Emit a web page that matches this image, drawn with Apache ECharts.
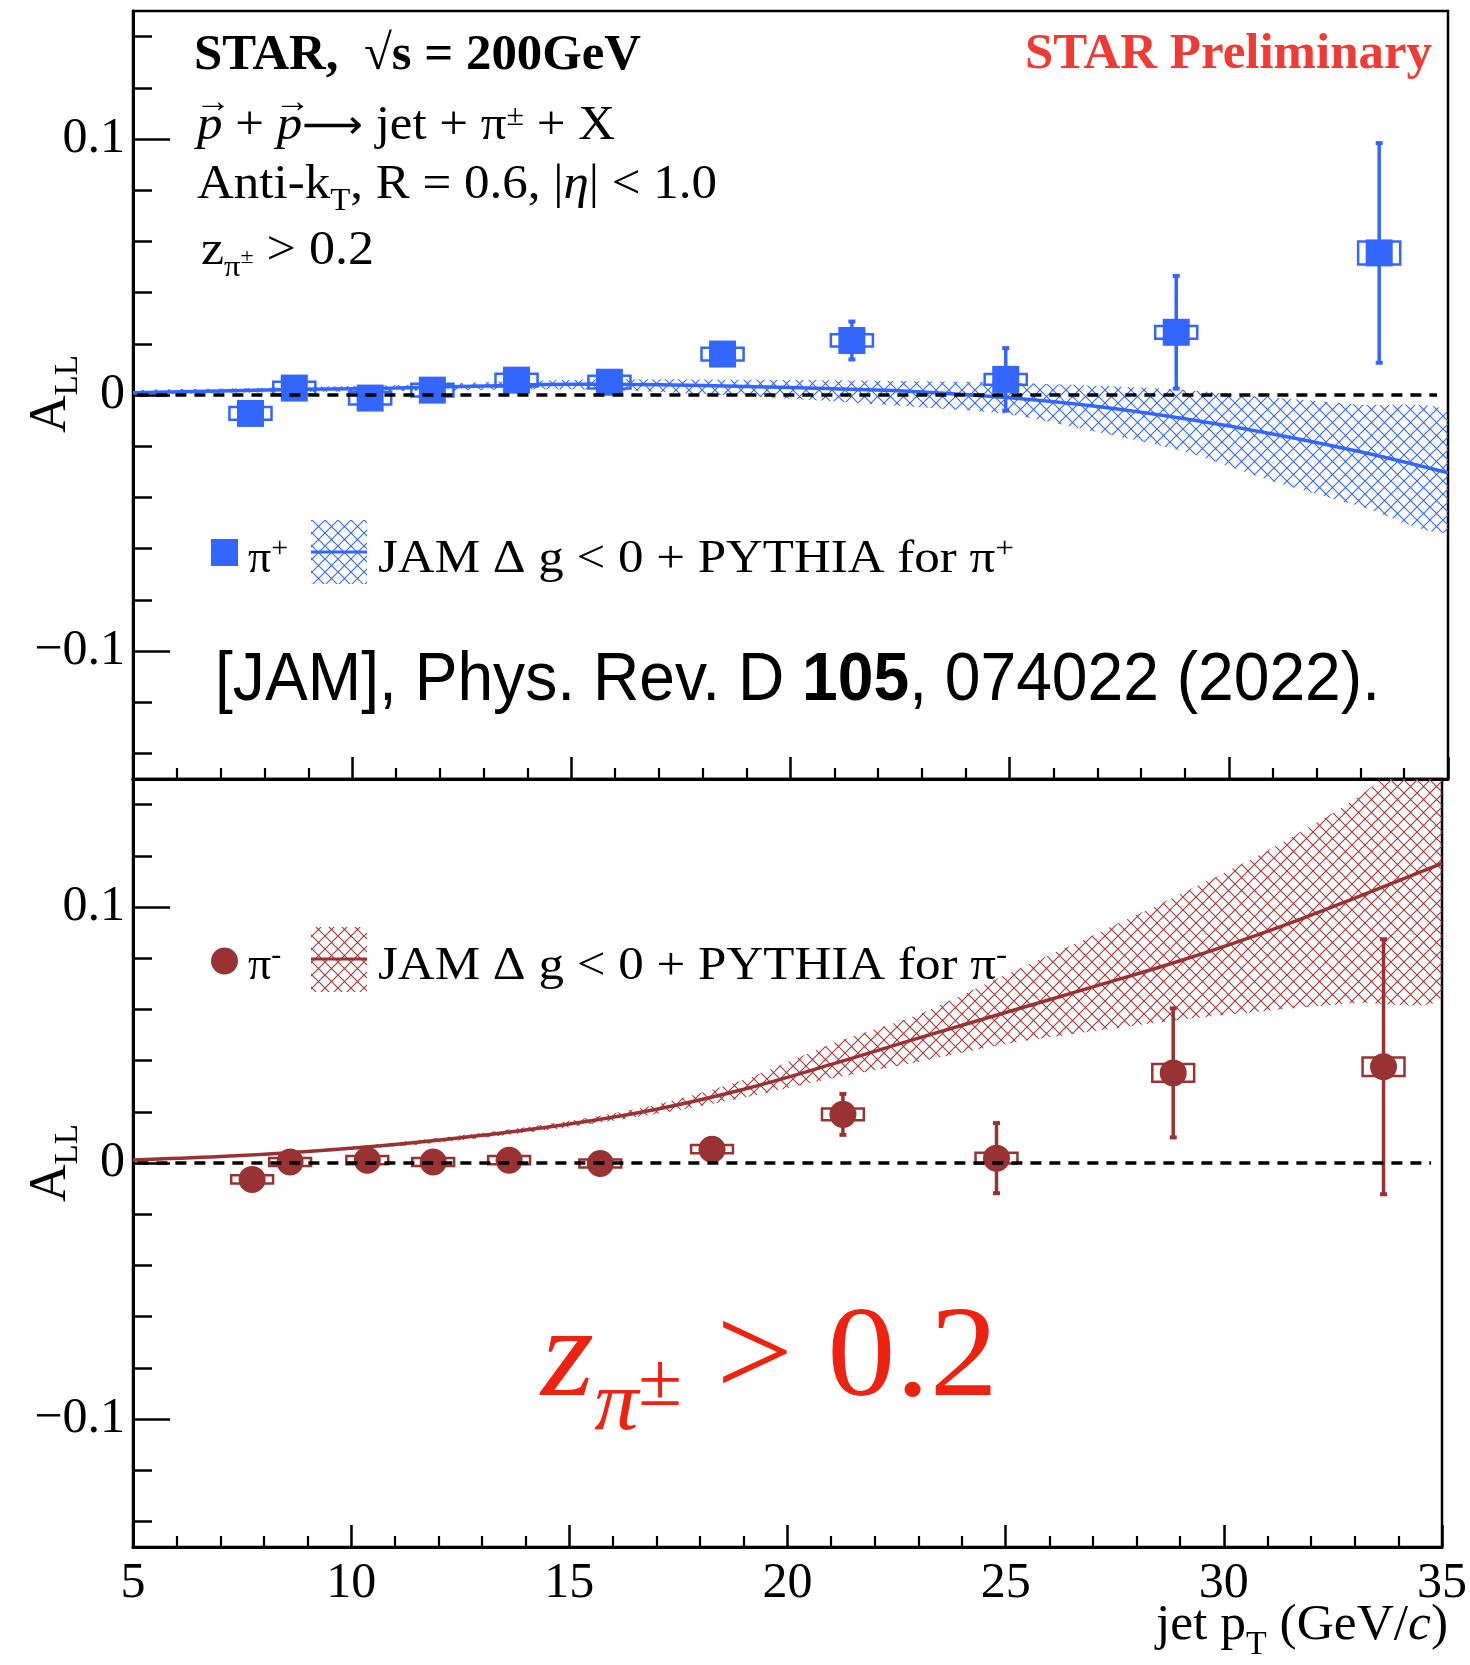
<!DOCTYPE html>
<html>
<head>
<meta charset="utf-8">
<script src="https://cdn.jsdelivr.net/npm/echarts@6/dist/echarts.min.js"></script>
<style>
  html, body { margin: 0; padding: 0; background: #ffffff; }
  #chart { width: 1470px; height: 1665px; }
</style>
</head>
<body>
<div id="chart"></div>
<script>
// ---------------- data ----------------
// x axis
const xMin = 5, xMax = 35, xStep = 5;
// y axis (A_LL), identical for both panels
const yMin = -0.15, yMax = 0.15;
const yMajorTicks = [-0.1, 0, 0.1];
const yMinorTicks = [-0.14, -0.12, -0.1, -0.08, -0.06, -0.04, -0.02, 0, 0.02, 0.04, 0.06, 0.08, 0.1, 0.12, 0.14];

// pi+ measurement
const piPlusPt   = [7.68, 8.68, 10.41, 11.83, 13.75, 15.87, 18.45, 21.40, 24.91, 28.80, 33.43];
const piPlusAll  = [-0.0072, 0.0027, -0.0012, 0.0019, 0.0058, 0.0050, 0.0160, 0.0213, 0.0061, 0.0245, 0.0555];
const piPlusStat = [0.0030, 0.0030, 0.0030, 0.0030, 0.0030, 0.0030, 0.0040, 0.0074, 0.0122, 0.0220, 0.0429];
const piPlusSys  = [0.0025, 0.0025, 0.0025, 0.0025, 0.0025, 0.0025, 0.0025, 0.0024, 0.0021, 0.0025, 0.0045];

// pi- measurement
const piMinusPt   = [7.73, 8.60, 10.37, 11.88, 13.62, 15.71, 18.27, 21.27, 24.79, 28.84, 33.66];
const piMinusAll  = [-0.0064, 0.0004, 0.0011, 0.0004, 0.0011, -0.0002, 0.0054, 0.0190, 0.0019, 0.0352, 0.0376];
const piMinusStat = [0.0030, 0.0030, 0.0030, 0.0030, 0.0030, 0.0030, 0.0040, 0.0080, 0.0137, 0.0252, 0.0498];
const piMinusSys  = [0.0016, 0.0016, 0.0016, 0.0016, 0.0016, 0.0016, 0.0016, 0.0023, 0.0021, 0.0035, 0.0036];

// half width of the systematic boxes in jet pT (GeV/c)
const sysHalfWidth = 0.48;

// JAM (Delta g < 0) + PYTHIA predictions
const thPt          = [5, 7, 9, 11, 13, 15, 17, 19, 21, 23, 25, 27, 29, 31, 33, 35];
const jamPlus       = [0.0009, 0.0016, 0.0022, 0.0027, 0.0035, 0.0042, 0.0040, 0.0033, 0.0024, 0.0012, -0.0011, -0.0045, -0.0093, -0.0152, -0.0222, -0.0304];
const jamPlusHigh   = [0.0017, 0.0025, 0.0032, 0.0039, 0.0050, 0.0060, 0.0062, 0.0060, 0.0058, 0.0054, 0.0048, 0.0036, 0.0020, -0.0010, -0.0038, -0.0070];
const jamPlusLow    = [0.0002, 0.0008, 0.0012, 0.0016, 0.0020, 0.0022, 0.0012, -0.0005, -0.0025, -0.0048, -0.0076, -0.0145, -0.0222, -0.0337, -0.0435, -0.0530];
const jamMinus      = [0.0012, 0.0025, 0.0045, 0.0072, 0.0108, 0.0152, 0.0210, 0.0288, 0.0385, 0.0488, 0.0588, 0.0688, 0.0790, 0.0905, 0.1035, 0.1170];
const jamMinusHigh  = [0.0015, 0.0029, 0.0050, 0.0080, 0.0118, 0.0165, 0.0228, 0.0325, 0.0465, 0.0580, 0.0735, 0.0890, 0.1050, 0.1220, 0.1420, 0.1650];
const jamMinusLow   = [0.0009, 0.0021, 0.0040, 0.0064, 0.0098, 0.0140, 0.0192, 0.0255, 0.0330, 0.0395, 0.0465, 0.0515, 0.0560, 0.0595, 0.0625, 0.0650];

// dashed reference line at A_LL = 0
const zeroLine = [[5.1, 0], [34.75, 0]];

// ---------------- styles ----------------
const BLUE = '#3366ff';
const BROWN = '#993333';
const RED = '#ee2211';
const PRELIM = '#f03a34';
const SERIF = '"Liberation Serif", "Times New Roman", serif';
const SANS = '"Liberation Sans", Arial, sans-serif';
const ARROWS = '"DejaVu Sans", "Liberation Serif", serif';

// cross-hatch fill tile
function hatchTile(color) {
  const s = 13;
  const c = document.createElement('canvas');
  c.width = s; c.height = s;
  const g = c.getContext('2d');
  g.strokeStyle = color;
  g.lineWidth = 1.1;
  g.beginPath();
  g.moveTo(0, 0); g.lineTo(s, s);
  g.moveTo(s, 0); g.lineTo(0, s);
  g.stroke();
  return { image: c, repeat: 'repeat' };
}
const hatchBlue = hatchTile(BLUE);
const hatchBrown = hatchTile('#a83535');

// ---------------- text helper ----------------
const measure = document.createElement('canvas').getContext('2d');
function fontOf(p, size) {
  return (p.style || 'normal') + ' ' + (p.weight || 'normal') + ' ' + size + 'px ' + (p.family || SERIF);
}
// lays out text pieces on a shared baseline (sub/superscripts via dy)
function textRun(parts, opt) {
  let cursor = 0, prevStart = 0, prevW = 0;
  const children = [];
  parts.forEach(function (p) {
    const size = p.size || opt.size;
    const font = fontOf(p, size);
    measure.font = font;
    const w = measure.measureText(p.text).width;
    let x;
    if (p.over) {
      x = prevStart + (prevW - w) / 2 + (p.dx || 0);
    } else {
      x = cursor + (p.dx || 0);
      prevStart = x; prevW = w; cursor = x + w;
    }
    children.push({
      type: 'text', silent: true,
      x: x, y: (p.dy || 0) - 0.34 * size,
      style: { text: p.text, font: font, fill: p.color || opt.color || '#000', align: 'left', verticalAlign: 'middle' }
    });
  });
  const s = opt.width ? opt.width / cursor : (opt.scaleX || 1);
  const gx = opt.anchor === 'right' ? opt.x - cursor * s : opt.x;
  return { type: 'group', x: gx, y: opt.y, scaleX: s, rotation: opt.rotation || 0, silent: true, children: children };
}

// ---------------- chart ----------------
const chart = echarts.init(document.getElementById('chart'), null, { renderer: 'canvas' });

const GRID_LEFT = 133, GRID_RIGHT = 22;
const grids = [
  { left: GRID_LEFT, right: GRID_RIGHT, top: 11, height: 768 },
  { left: GRID_LEFT, right: GRID_RIGHT, top: 779, height: 768 }
].map(function (g) {
  return Object.assign({ show: true, borderColor: '#000', borderWidth: 2.5, backgroundColor: 'transparent', containLabel: false }, g);
});

function xAxisFor(gridIndex, withLabels) {
  return {
    type: 'value', gridIndex: gridIndex, min: xMin, max: xMax, interval: xStep,
    axisLine: { show: true, onZero: false, lineStyle: { color: '#000', width: 3 } },
    axisTick: { show: true, inside: true, length: 22, lineStyle: { color: '#000', width: 2.5 } },
    minorTick: { show: true, splitNumber: 5, length: 11, lineStyle: { color: '#000', width: 2.2 } },
    splitLine: { show: false },
    axisLabel: withLabels ? {
      show: true, margin: 12, color: '#000', fontFamily: SERIF, fontSize: 50,
      showMinLabel: true, showMaxLabel: true
    } : { show: false }
  };
}

function yAxesFor(gridIndex) {
  return [
    {
      type: 'value', gridIndex: gridIndex, min: yMin, max: yMax, position: 'left',
      axisLine: { show: true, onZero: false, lineStyle: { color: '#000', width: 3 } },
      axisTick: { show: true, inside: true, length: 37, customValues: yMajorTicks, lineStyle: { color: '#000', width: 2.5 } },
      axisLabel: {
        show: true, customValues: yMajorTicks, margin: 8, color: '#000', fontFamily: SERIF, fontSize: 50,
        formatter: function (v) { return String(v).replace('-', '\u2212'); }
      },
      splitLine: { show: false }
    },
    {
      type: 'value', gridIndex: gridIndex, min: yMin, max: yMax, position: 'left',
      axisLine: { show: false },
      axisTick: { show: true, inside: true, length: 19, customValues: yMinorTicks, lineStyle: { color: '#000', width: 2.5 } },
      axisLabel: { show: false },
      splitLine: { show: false }
    }
  ];
}

function bandSeries(xi, yi, xs, lo, hi, fill) {
  return {
    type: 'custom', xAxisIndex: xi, yAxisIndex: yi, clip: true, z: 1, silent: true,
    data: xs.map(function (x, i) { return [x, lo[i], hi[i]]; }),
    renderItem: function (params, api) {
      if (params.dataIndex !== 0) return null;
      const upper = xs.map(function (x, i) { return api.coord([x, hi[i]]); });
      const lower = xs.map(function (x, i) { return api.coord([x, lo[i]]); }).reverse();
      return { type: 'polygon', shape: { points: upper.concat(lower), smooth: 0.25 }, style: { fill: fill, stroke: null } };
    }
  };
}

function curveSeries(xi, yi, xs, ys, color) {
  return {
    type: 'line', xAxisIndex: xi, yAxisIndex: yi, z: 2, silent: true,
    data: xs.map(function (x, i) { return [x, ys[i]]; }),
    smooth: 0.4, showSymbol: false, symbol: 'none',
    lineStyle: { color: color, width: 3.5 }
  };
}

function sysSeries(xi, yi, xs, ys, sys, color) {
  return {
    type: 'custom', xAxisIndex: xi, yAxisIndex: yi, clip: true, z: 3, silent: true,
    data: xs.map(function (x, i) { return [x, ys[i], sys[i]]; }),
    renderItem: function (params, api) {
      const x = api.value(0), y = api.value(1), s = api.value(2);
      const a = api.coord([x - sysHalfWidth, y + s]);
      const b = api.coord([x + sysHalfWidth, y - s]);
      return { type: 'rect', shape: { x: a[0], y: a[1], width: b[0] - a[0], height: b[1] - a[1] },
               style: { fill: 'none', stroke: color, lineWidth: 2.5 } };
    }
  };
}

function statSeries(xi, yi, xs, ys, err, color) {
  return {
    type: 'custom', xAxisIndex: xi, yAxisIndex: yi, clip: true, z: 3, silent: true,
    data: xs.map(function (x, i) { return [x, ys[i], err[i]]; }),
    renderItem: function (params, api) {
      const x = api.value(0), y = api.value(1), e = api.value(2);
      const t = api.coord([x, y + e]), b = api.coord([x, y - e]);
      return { type: 'group', children: [
        { type: 'line', shape: { x1: t[0], y1: t[1], x2: b[0], y2: b[1] }, style: { stroke: color, lineWidth: 3.5 } },
        { type: 'rect', shape: { x: t[0] - 3.5, y: t[1] - 2, width: 7, height: 4 }, style: { fill: color } },
        { type: 'rect', shape: { x: b[0] - 3.5, y: b[1] - 2, width: 7, height: 4 }, style: { fill: color } }
      ] };
    }
  };
}

function pointSeries(xi, yi, xs, ys, symbol, color) {
  return {
    type: 'scatter', xAxisIndex: xi, yAxisIndex: yi, z: 4, silent: true,
    symbol: symbol, symbolSize: 27,
    data: xs.map(function (x, i) { return [x, ys[i]]; }),
    itemStyle: { color: color, opacity: 1 }
  };
}

function zeroSeries(xi, yi) {
  return {
    type: 'line', xAxisIndex: xi, yAxisIndex: yi, z: 6, silent: true,
    data: zeroLine, showSymbol: false, symbol: 'none',
    lineStyle: { color: '#000', width: 3.5, type: [11, 8] }
  };
}

// ---------------- annotations ----------------
const texts = [
  // top-left block
  textRun([{ text: 'STAR,  \u221As = 200GeV', weight: 'bold' }], { x: 194, y: 73, size: 50, width: 447 }),
  textRun([
    { text: 'p', style: 'italic' },
    { text: '\u2192', size: 34, weight: 'bold', dy: -28, over: true, dx: 3 },
    { text: ' + ' },
    { text: 'p', style: 'italic' },
    { text: '\u2192', size: 34, weight: 'bold', dy: -28, over: true, dx: 3 },
    { text: '\u27F6', size: 40, family: ARROWS, dy: -2 },
    { text: ' jet + \u03C0' },
    { text: '\u00B1', size: 30, dy: -16 },
    { text: ' + X' }
  ], { x: 197, y: 143, size: 48, width: 418 }),
  textRun([
    { text: 'Anti-k' },
    { text: 'T', size: 31, dy: 10 },
    { text: ', R = 0.6, |' },
    { text: '\u03B7', style: 'italic' },
    { text: '| < 1.0' }
  ], { x: 197, y: 202, size: 48, width: 520 }),
  textRun([
    { text: 'z' },
    { text: '\u03C0', size: 30, dy: 10 },
    { text: '\u00B1', size: 22, dy: -3 },
    { text: ' > 0.2' }
  ], { x: 201, y: 268, size: 48, width: 173 }),
  textRun([{ text: 'STAR Preliminary', weight: 'bold', color: PRELIM }], { x: 1432, y: 72, size: 50, width: 407, anchor: 'right' }),

  // top legend
  { type: 'rect', silent: true, shape: { x: 211, y: 539, width: 27, height: 27 }, style: { fill: BLUE } },
  textRun([{ text: '\u03C0' }, { text: '+', size: 30, dy: -17 }], { x: 248, y: 576, size: 46 }),
  { type: 'rect', silent: true, shape: { x: 311, y: 520, width: 56, height: 64 }, style: { fill: hatchBlue } },
  { type: 'line', silent: true, shape: { x1: 311, y1: 552, x2: 367, y2: 552 }, style: { stroke: BLUE, lineWidth: 3 } },
  textRun([{ text: 'JAM \u0394 g < 0 + PYTHIA for \u03C0' }, { text: '+', size: 30, dy: -17 }], { x: 378, y: 576, size: 46, width: 636 }),

  // citation
  textRun([
    { text: '[JAM], Phys. Rev. D ', family: SANS },
    { text: '105', family: SANS, weight: 'bold' },
    { text: ', 074022 (2022).', family: SANS }
  ], { x: 215, y: 704, size: 68, width: 1165 }),

  // bottom legend
  { type: 'circle', silent: true, shape: { cx: 224.5, cy: 961, r: 13.5 }, style: { fill: BROWN } },
  textRun([{ text: '\u03C0' }, { text: '-', size: 30, dy: -17 }], { x: 248, y: 983, size: 46 }),
  { type: 'rect', silent: true, shape: { x: 311, y: 927, width: 56, height: 65 }, style: { fill: hatchBrown } },
  { type: 'line', silent: true, shape: { x1: 311, y1: 959, x2: 367, y2: 959 }, style: { stroke: BROWN, lineWidth: 3 } },
  textRun([{ text: 'JAM \u0394 g < 0 + PYTHIA for \u03C0' }, { text: '-', size: 30, dy: -17 }], { x: 378, y: 983, size: 46, width: 629 }),

  // large cut label
  textRun([
    { text: 'z', style: 'italic' },
    { text: '\u03C0', style: 'italic', size: 84, dy: 30 },
    { text: '\u00B1', size: 76, dy: 6 },
    { text: ' > 0.2' }
  ], { x: 541, y: 1405, size: 130, width: 457, color: RED }),

  // axis titles
  textRun([{ text: 'A' }, { text: 'LL', size: 33, dy: 11 }], { x: 69, y: 433, size: 52, rotation: Math.PI / 2 }),
  textRun([{ text: 'A' }, { text: 'LL', size: 33, dy: 11 }], { x: 69, y: 1202, size: 52, rotation: Math.PI / 2 }),
  textRun([
    { text: 'jet p' },
    { text: 'T', size: 33, dy: 14 },
    { text: ' (GeV/' },
    { text: 'c', style: 'italic' },
    { text: ')' }
  ], { x: 1448, y: 1643, size: 50, width: 292, anchor: 'right' })
];

const option = {
  backgroundColor: '#ffffff',
  animation: false,
  grid: grids,
  xAxis: [xAxisFor(0, false), xAxisFor(1, true)],
  yAxis: yAxesFor(0).concat(yAxesFor(1)),
  series: [
    // upper panel: pi+
    bandSeries(0, 0, thPt, jamPlusLow, jamPlusHigh, hatchBlue),
    curveSeries(0, 0, thPt, jamPlus, BLUE),
    sysSeries(0, 0, piPlusPt, piPlusAll, piPlusSys, BLUE),
    statSeries(0, 0, piPlusPt, piPlusAll, piPlusStat, BLUE),
    pointSeries(0, 0, piPlusPt, piPlusAll, 'rect', BLUE),
    zeroSeries(0, 0),
    // lower panel: pi-
    bandSeries(1, 2, thPt, jamMinusLow, jamMinusHigh, hatchBrown),
    curveSeries(1, 2, thPt, jamMinus, BROWN),
    sysSeries(1, 2, piMinusPt, piMinusAll, piMinusSys, BROWN),
    statSeries(1, 2, piMinusPt, piMinusAll, piMinusStat, BROWN),
    pointSeries(1, 2, piMinusPt, piMinusAll, 'circle', BROWN),
    zeroSeries(1, 2)
  ],
  graphic: { elements: texts.map(function (t) { t.z = 100; return t; }) }
};

chart.setOption(option);
</script>
</body>
</html>
